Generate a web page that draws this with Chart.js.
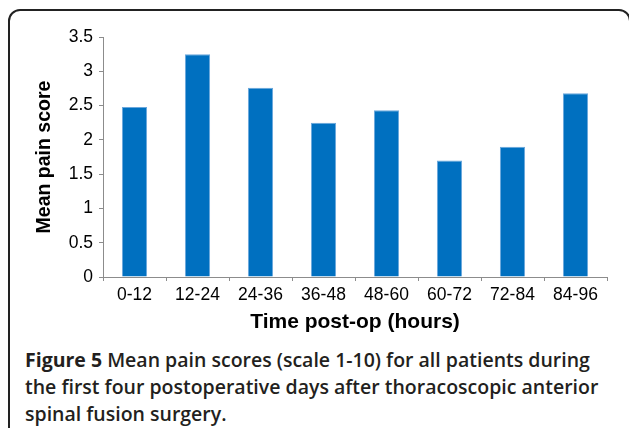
<!DOCTYPE html>
<html>

<head>
  <meta charset="utf-8">
  <title>Mean pain scores</title>
  <script src="https://cdn.jsdelivr.net/npm/chart.js@4.4.0/dist/chart.umd.min.js"></script>
  <style>
    html, body { margin: 0; padding: 0; background: #fff; }
    body { width: 629px; height: 428px; overflow: hidden; position: relative; }
    #frame {
      position: absolute; left: 8px; top: 9px; width: 619px; height: 440px;
      border: 2px solid #222; border-radius: 12px;
    }
    #wrap { position: absolute; left: 0; top: 0; width: 629px; height: 337px; }
    #caption {
      position: absolute; left: 25px; top: 346px; width: 600px;
      font-family: "Open Sans", sans-serif; font-weight: 600; font-size: 19.5px;
      line-height: 27px; color: #231f20; white-space: nowrap;
    }
    #caption b { font-weight: 700; }
  </style>
</head>

<body>
  <div id="frame"></div>
  <div id="wrap"><canvas id="painChart"></canvas></div>
  <div id="caption"><b>Figure 5</b> Mean pain scores (scale 1-10) for all patients during<br>the first four postoperative days after thoracoscopic anterior<br>spinal fusion surgery.</div>

  <script>
    // values
    const timeLabels = ['0-12', '12-24', '24-36', '36-48', '48-60', '60-72', '72-84', '84-96'];
    const meanPain = [2.48, 3.25, 2.76, 2.25, 2.43, 1.70, 1.90, 2.68];
    const yTicks = [0, 0.5, 1, 1.5, 2, 2.5, 3, 3.5];

    const axisGrey = '#8c8c8c';
    const fontFam = 'Liberation Sans, Arial, sans-serif';
    const tickFont = { family: fontFam, size: 17.5 };

    const ctx = document.getElementById('painChart').getContext('2d');
    const painChart = new Chart(ctx, {
      type: 'bar',
      data: {
        labels: timeLabels,
        datasets: [{
          label: 'Mean pain score',
          data: meanPain,
          backgroundColor: '#0070c0',
          borderColor: '#6aa7dc',
          borderWidth: 1,
          categoryPercentage: 1,
          barPercentage: 0.4
        }]
      },
      options: {
        responsive: true,
        maintainAspectRatio: false,
        animation: false,
        layout: { padding: { top: 37, right: 22, left: 0, bottom: 0 } },
        plugins: { legend: { display: false }, tooltip: { enabled: false } },
        scales: {
          x: {
            afterFit: (s) => { s.height = 60; },
            grid: { drawOnChartArea: false, color: axisGrey, tickLength: 4, offset: true },
            border: { color: axisGrey, width: 1 },
            ticks: { color: '#000', font: tickFont, padding: 4, maxRotation: 0 },
            title: {
              display: true, text: 'Time post-op (hours)', color: '#000',
              font: { family: fontFam, size: 21, weight: 'bold' }, padding: { top: 0, bottom: 2 }
            }
          },
          y: {
            min: 0,
            max: 3.5,
            afterFit: (s) => { s.width = 103; },
            afterBuildTicks: (s) => { s.ticks = yTicks.map(v => ({ value: v })); },
            grid: { drawOnChartArea: false, color: axisGrey, tickLength: 4 },
            border: { color: axisGrey, width: 1 },
            ticks: { color: '#000', font: tickFont, padding: 6, callback: (v) => String(v) },
            title: {
              display: true, text: 'Mean pain score', color: '#000',
              font: { family: fontFam, size: 19.5, weight: 'bold' }, padding: { top: 33, bottom: 0 }
            }
          }
        }
      }
    });
  </script>
</body>

</html>
